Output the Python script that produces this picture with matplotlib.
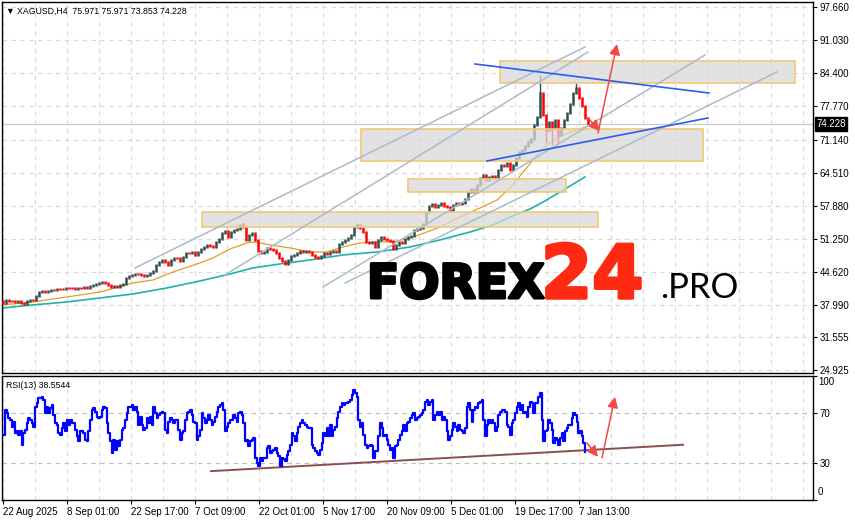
import numpy as np
import matplotlib
matplotlib.use('Agg')
import matplotlib.pyplot as plt
import matplotlib.transforms as mtrans
import matplotlib.patheffects as pe

plt.rcParams['font.family'] = ['Liberation Sans', 'DejaVu Sans']

# XAGUSD H4 closes, one every 3 bars (bar 0 = 22 Aug 2025)
closes = [38.37, 38.97, 38.77, 38.77, 38.57, 38.77, 38.37, 38.17, 38.77, 38.97,
          38.97, 39.77, 40.57, 40.78, 40.57, 40.78, 40.98, 40.98, 41.18, 41.18,
          41.18, 41.38, 41.38, 41.38, 41.18, 41.38, 41.38, 41.58, 41.38, 41.78,
          41.98, 42.18, 42.38, 42.58, 42.38, 41.98, 41.58, 41.78, 41.58, 41.98,
          42.18, 43.38, 43.78, 43.98, 44.18, 44.18, 43.98, 43.78, 43.98, 44.38,
          44.78, 45.99, 46.59, 46.99, 46.59, 45.99, 46.99, 47.39, 47.39, 46.79,
          47.59, 48.39, 48.39, 48.59, 47.99, 48.59, 49.19, 49.60, 50.00, 49.80,
          49.60, 50.60, 51.20, 52.40, 52.81, 51.60, 52.60, 53.01, 53.21, 54.01,
          53.61, 51.00, 52.00, 52.40, 51.00, 48.79, 48.39, 48.59, 49.40, 49.19,
          48.99, 48.39, 47.39, 46.79, 46.19, 46.99, 47.79, 47.99, 48.39, 48.79,
          48.59, 48.79, 48.59, 47.99, 47.59, 47.39, 47.79, 48.39, 48.19, 48.59,
          48.79, 48.59, 50.20, 50.60, 51.00, 51.40, 52.00, 53.61, 54.01, 53.41,
          52.60, 50.60, 50.40, 50.60, 49.60, 51.00, 51.60, 51.20, 51.00, 50.80,
          49.19, 49.99, 50.60, 50.40, 51.20, 51.60, 51.80, 53.01, 53.21, 53.41,
          54.21, 56.61, 57.82, 58.22, 57.62, 58.02, 58.42, 57.82, 57.62, 57.02,
          58.02, 58.42, 58.22, 58.42, 59.22, 60.62, 61.23, 60.62, 62.03, 63.43,
          64.03, 63.03, 63.63, 63.83, 63.63, 65.03, 66.04, 65.84, 66.44, 65.03,
          66.04, 67.44, 68.64, 69.05, 69.85, 70.65, 71.25, 74.06, 75.66, 80.47,
          76.06, 73.06, 74.66, 73.46, 75.06, 72.05, 73.46, 75.06, 76.46, 78.27,
          80.47, 81.48, 79.47, 77.87, 75.46, 74.23]

# long wicks
spike_bars = [240, 354, 537, 573, 543, 549, 555]
spike_prices = [54.61, 54.41, 84.08, 82.48, 70.45, 70.05, 70.45]

# moving averages (bar, price)
ma_fast_bars = [0, 30, 64, 97, 130, 150, 170, 197, 210, 227, 244, 252, 267, 287, 307, 324, 340,
                357, 374, 390, 407, 424, 437, 457, 477, 494, 507, 517, 530, 540, 554, 567, 583]
ma_fast = [37.97, 38.57, 39.57, 40.57, 42.38, 42.98, 44.58, 46.39, 47.39, 49.19, 50.40, 50.60,
           50.00, 49.40, 48.59, 48.59, 49.60, 50.40, 50.60, 50.60, 51.40, 52.60, 53.61, 55.61,
           57.42, 59.02, 61.43, 63.83, 67.04, 69.45, 71.45, 72.65, 73.66]
ma_slow_bars = [0, 30, 64, 97, 130, 164, 197, 227, 250, 277, 307, 340, 374, 407, 437, 467,
                490, 512, 527, 542, 557, 582]
ma_slow = [37.37, 37.97, 38.57, 39.37, 40.17, 41.38, 42.78, 44.18, 45.39, 46.19, 46.99, 47.99,
           48.59, 49.60, 51.00, 52.60, 54.01, 56.01, 57.21, 58.82, 60.62, 63.63]

# RSI(13), first part from bar 0.33, second part from bar 417, every 5/3 bar
rsi_a = [52.7, 72.7, 70.0, 66.0, 64.7, 59.3, 63.3, 54.0, 55.3, 52.7, 55.3, 44.7, 54.0, 56.7,
         62.0, 66.0, 64.7, 62.0, 59.3, 75.3, 78.0, 82.0, 82.0, 82.8, 80.7, 70.0, 75.3, 70.0,
         74.0, 76.7, 68.7, 62.0, 60.7, 54.0, 52.7, 58.0, 62.0, 55.3, 64.7, 60.7, 64.7, 62.0,
         62.0, 56.7, 51.3, 47.3, 55.3, 55.3, 54.0, 48.7, 47.3, 55.3, 64.7, 72.7, 74.0, 71.3,
         67.3, 66.0, 67.3, 72.7, 75.3, 74.0, 62.0, 54.0, 47.3, 38.0, 48.7, 40.7, 47.3, 43.3,
         48.7, 56.7, 58.0, 64.7, 70.0, 75.3, 75.3, 76.7, 72.7, 75.3, 71.3, 60.7, 67.3, 60.7,
         56.7, 58.0, 66.0, 62.0, 67.3, 60.7, 75.3, 70.0, 66.0, 68.7, 70.0, 71.3, 70.0, 56.7,
         54.0, 63.3, 66.0, 64.7, 62.0, 64.7, 64.7, 56.7, 48.7, 54.0, 55.3, 64.7, 70.0, 71.3,
         72.7, 68.7, 63.3, 62.0, 48.7, 51.3, 56.7, 70.0, 66.0, 62.0, 64.7, 68.7, 64.7, 60.7,
         63.3, 67.3, 71.3, 75.3, 76.7, 78.0, 72.7, 55.3, 59.3, 62.0, 64.7, 64.7, 68.7, 66.0,
         63.3, 70.0, 71.3, 68.7, 62.0, 47.3, 48.7, 43.3, 47.3, 48.7, 50.0, 34.0, 30.0, 27.3,
         34.0, 31.3, 34.0, 34.0, 42.0, 43.3, 38.0, 39.3, 40.7, 42.0, 38.0, 35.3, 27.3, 34.0,
         32.7, 31.3, 36.7, 39.3, 44.7, 54.0, 51.3, 47.3, 54.0, 59.3, 62.0, 64.7, 62.0, 60.7,
         59.3, 58.0, 58.0, 44.7, 42.0, 39.3, 38.0, 36.7, 40.7, 46.0, 54.0, 51.3, 58.0, 51.3,
         60.7, 51.3, 56.7, 59.3, 66.0, 71.3, 75.3, 78.0, 76.7, 78.0, 78.0, 79.3, 80.7, 84.7,
         88.7, 86.0, 83.3, 64.7, 59.3, 62.0, 52.7, 44.7, 42.0, 43.3, 44.7, 43.3, 34.0, 39.3,
         39.3, 51.3, 62.0, 58.0, 51.3, 52.7, 48.7, 44.7, 40.7, 42.0, 34.0, 43.3, 44.7, 48.7,
         52.7, 55.3, 60.7, 55.3, 62.0, 63.3, 66.0, 68.7, 70.0, 64.7, 66.0, 67.3]
rsi_b = [68.7, 70.0, 72.7, 79.3, 80.7, 76.7, 79.3, 80.7, 64.7, 68.7, 71.3, 68.7, 71.3, 64.7,
         67.3, 64.7, 55.3, 48.7, 51.3, 56.7, 62.0, 59.3, 55.3, 60.7, 56.7, 55.3, 54.0, 58.0,
         75.3, 78.0, 72.7, 63.3, 72.7, 75.3, 74.0, 78.0, 79.3, 80.7, 64.7, 51.3, 60.7, 64.7,
         62.0, 64.7, 62.0, 55.3, 59.3, 68.7, 71.3, 72.7, 72.7, 71.3, 60.7, 59.3, 52.7, 62.0,
         64.7, 70.0, 75.3, 78.0, 72.7, 76.7, 70.0, 71.3, 67.3, 75.3, 79.3, 78.0, 70.0, 78.0,
         78.0, 83.3, 86.0, 64.7, 47.3, 55.3, 56.7, 64.7, 62.0, 56.7, 46.0, 50.0, 48.7, 44.7,
         50.0, 54.0, 47.3, 55.3, 58.0, 60.7, 60.7, 66.0, 70.0, 68.7, 63.3, 54.0, 55.3, 51.3,
         46.0, 38.55]

date_bars = [0, 64, 128, 192, 256, 320, 384, 448, 512, 576]
date_labels = ['22 Aug 2025', '8 Sep 01:00', '22 Sep 17:00', '7 Oct 09:00', '22 Oct 01:00',
               '5 Nov 17:00', '20 Nov 09:00', '5 Dec 01:00', '19 Dec 17:00', '7 Jan 13:00']
price_ticks = [97.660, 91.030, 84.400, 77.770, 71.140, 64.510, 57.880, 51.250, 44.620,
               37.990, 31.555, 24.925]
last_price = 74.228

# drawn objects: zones (bar0, bar1, low, high), channel lines, arrows
zones = [(497, 792, 82.48, 86.89), (358, 700, 66.84, 73.26),
         (405, 563, 60.62, 63.23), (199, 595, 53.61, 56.61)]
channel_lines = [((132, 45.38), (582, 89.70)), ((222, 43.98), (585, 88.70)),
                 ((320, 41.57), (702, 88.09)), ((342, 42.37), (774, 84.69))]
blue_lines = [((472, 86.29), (706, 80.47)), ((484, 66.84), (705, 75.46))]
price_arrows = [((585, 75.46), (597, 72.85)), ((595, 72.45), (614, 90.30))]
rsi_arrows = [((584, 46.0), (595, 34.8)), ((599, 34.0), (612, 83.3))]
rsi_trend = ((208, 23.3), (680, 44.6))

W, H = 855, 521
fig = plt.figure(figsize=(W / 100, H / 100), dpi=100)
ax = fig.add_axes([2 / W, 1 - 373 / H, 811 / W, 371 / H])
ax2 = fig.add_axes([2 / W, 1 - 500 / H, 811 / W, 124 / H])

grid_kw = dict(color='#d9d9d9', lw=0.8, ls=(0, (4, 4)), zorder=0)
for a in (ax, ax2):
    a.set_xlim(-1, 810)
    for gx in range(0, 810, 32):
        a.axvline(gx, **grid_kw)
    for s in a.spines.values():
        s.set_color('black')
        s.set_linewidth(1.0)
    a.yaxis.tick_right()
    a.tick_params(axis='both', direction='out', length=3, width=0.8, labelsize=7, pad=2)

# ---- price panel
ax.set_ylim(24.32, 98.72)
for p in price_ticks:
    ax.axhline(p, **grid_kw)
ax.set_yticks(price_ticks)
ax.set_yticklabels(['%.3f' % p for p in price_ticks])
ax.set_xticks(date_bars)
ax.set_xticklabels([])
ax.tick_params(axis='x', length=0)

ax.axhline(last_price, color='#c8c8c8', lw=0.8, zorder=1)

ax.plot(ma_slow_bars, ma_slow, color='#20b2aa', lw=1.2, zorder=2)
ax.plot(ma_fast_bars, ma_fast, color='#e0a020', lw=0.9, zorder=2)

bars = np.arange(len(closes)) * 3
opens = [closes[0] + 0.4] + closes[:-1]
cols, lows, highs = [], [], []
for o, c in zip(opens, closes):
    cols.append('#2f4f4f' if c > o else '#ff0000')
    lows.append(min(o, c) - 0.2)
    highs.append(max(o, c) + 0.2)
close_at = dict(zip(bars, closes))
col_at = dict(zip(bars, cols))
for b, sp in zip(spike_bars, spike_prices):
    ax.vlines(b, close_at[b], sp, color=col_at[b], lw=1.0, zorder=3)
ax.vlines(bars, lows, highs, colors=cols, lw=1.8, zorder=3)

for b0, b1, lo, hi in zones:
    ax.add_patch(plt.Rectangle((b0, lo), b1 - b0, hi - lo, facecolor='#d9d9d9', alpha=0.75,
                               edgecolor='none', zorder=4))
    ax.add_patch(plt.Rectangle((b0, lo), b1 - b0, hi - lo, facecolor='none',
                               edgecolor='#f2c777', lw=1.2, zorder=4))

for (x0, y0), (x1, y1) in channel_lines:
    ax.plot([x0, x1], [y0, y1], color='#a9bcc8', lw=1.1, zorder=5)
for (x0, y0), (x1, y1) in blue_lines:
    ax.plot([x0, x1], [y0, y1], color='#2a5cf0', lw=1.2, zorder=5)
arrow_kw = dict(arrowstyle='-|>', color='#f24a4a', lw=1.1, mutation_scale=16,
                shrinkA=0, shrinkB=0)
for (x0, y0), (x1, y1) in price_arrows:
    ax.annotate('', xy=(x1, y1), xytext=(x0, y0), arrowprops=arrow_kw, zorder=6)

ax.text(1.004, last_price, '%.3f' % last_price, transform=mtrans.blended_transform_factory(
    ax.transAxes, ax.transData), color='white', fontsize=7, va='center', ha='left',
    bbox=dict(facecolor='black', edgecolor='black', pad=1.2), zorder=10, clip_on=False)

fig.text(6 / W, 1 - 11 / H, '\u25bc XAGUSD,H4  75.971 75.971 73.853 74.228',
         fontsize=6.3, va='center', ha='left')

# watermark
fig.text(367 / W, 1 - 298 / H, 'FOREX', family='DejaVu Sans', weight='bold',
         fontsize=34, color='black', va='baseline', ha='left',
         path_effects=[pe.withStroke(linewidth=2.2, foreground='black')])
fig.text(541 / W, 1 - 298 / H, '24', family='DejaVu Sans', weight='bold',
         fontsize=53, color='#ff2a12', va='baseline', ha='left',
         path_effects=[pe.withStroke(linewidth=2.5, foreground='#ff2a12')])
fig.text(660 / W, 1 - 298 / H, '.PRO', family=['Lato', 'DejaVu Sans'], weight='normal',
         fontsize=25, color='black', va='baseline', ha='left')

# ---- RSI panel
ax2.set_ylim(0.6, 100.1)
for lv in (70, 30):
    ax2.axhline(lv, color='#bdbdbd', lw=0.8, ls=(0, (4, 4)), zorder=1)
ax2.set_yticks([100, 70, 30, 0])
ax2.set_yticklabels(['', '70', '30', ''])
tr = mtrans.blended_transform_factory(ax2.transAxes, ax2.transData)
ax2.text(1.0 + 5 / 811, 95, '100', transform=tr, fontsize=7, va='center', ha='left')
ax2.text(1.0 + 5 / 811, 6.2, '0', transform=tr, fontsize=7, va='center', ha='left')

(x0, y0), (x1, y1) = rsi_trend
ax2.plot([x0, x1], [y0, y1], color='#8e4d4d', lw=1.4, zorder=2)

xa = 1 / 3 + np.arange(len(rsi_a)) * 5 / 3
xb = 417 + np.arange(len(rsi_b)) * 5 / 3
ax2.plot(np.concatenate([xa, xb]), rsi_a + rsi_b, color='#0000ff', lw=1.6,
         drawstyle='steps-post', zorder=3)

for (x0, y0), (x1, y1) in rsi_arrows:
    ax2.annotate('', xy=(x1, y1), xytext=(x0, y0), arrowprops=arrow_kw, zorder=6)

ax2.set_xticks(date_bars)
ax2.set_xticklabels(date_labels, ha='left')
fig.text(6 / W, 1 - 385 / H, 'RSI(13) 38.5544', fontsize=6.3, va='center', ha='left')

fig.savefig('out.png', dpi=100)
